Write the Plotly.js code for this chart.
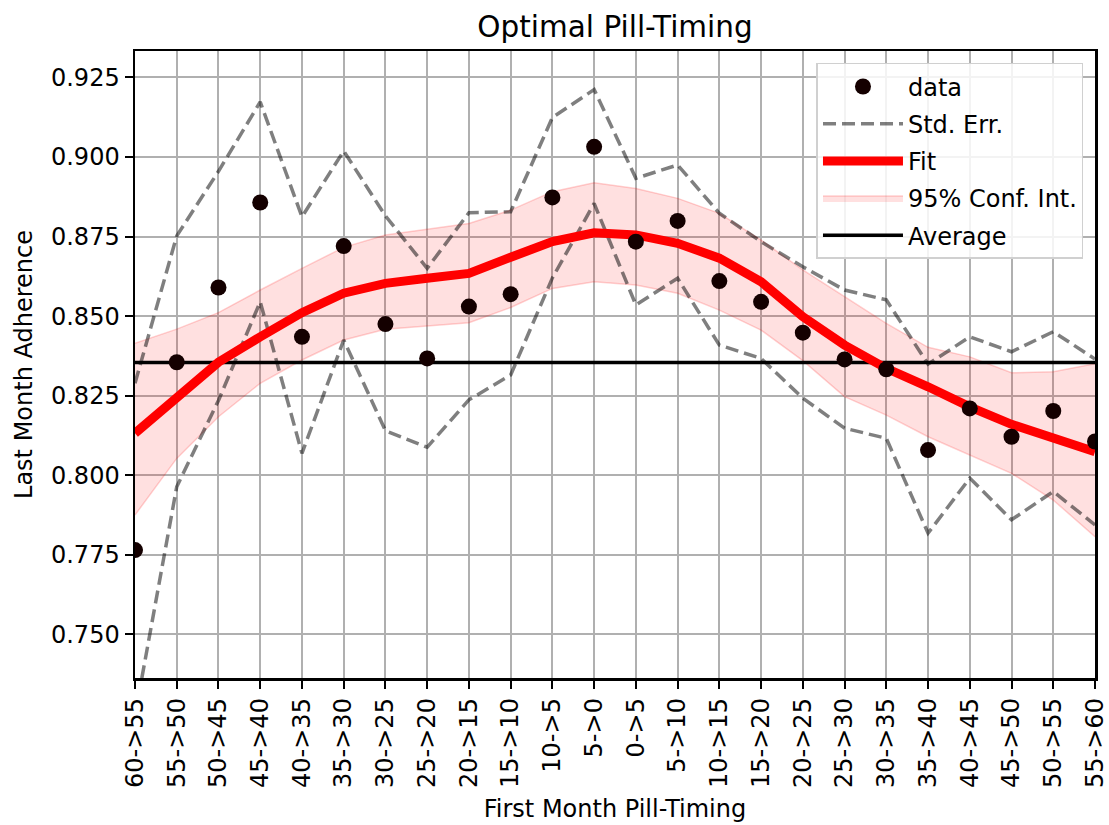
<!DOCTYPE html>
<html>
<head>
<meta charset="utf-8">
<script src="https://cdn.plot.ly/plotly-3.0.1.min.js"></script>
<style>html,body{margin:0;padding:0;background:#fff;}#chart{width:1109px;height:825px;}</style>
</head>
<body>
<div id="chart"></div>
<script>
const categories = ["60->55","55->50","50->45","45->40","40->35","35->30","30->25","25->20","20->15","15->10","10->5","5->0",
                    "0->5","5->10","10->15","15->20","20->25","25->30","30->35","35->40","40->45","45->50","50->55","55->60"];
const dataValues = [0.7765,0.8355,0.8590,0.8857,0.8435,0.8720,0.8475,0.8367,0.8530,0.8569,0.8873,0.9032,
                    0.8734,0.8799,0.8610,0.8545,0.8448,0.8364,0.8333,0.8079,0.8210,0.8121,0.8202,0.8106];
const stdErrUpper = [0.8289,0.8752,0.8955,0.9173,0.8812,0.9019,0.8815,0.8650,0.8825,0.8828,0.9124,0.9212,
                     0.8933,0.8975,0.8823,0.8734,0.8655,0.8582,0.8551,0.8349,0.8435,0.8388,0.8451,0.8365];
const stdErrLower = [0.7245,0.7964,0.8235,0.8545,0.8069,0.8425,0.8140,0.8088,0.8237,0.8315,0.8620,0.8854,
                     0.8535,0.8619,0.8409,0.8367,0.8242,0.8148,0.8116,0.7818,0.7991,0.7860,0.7949,0.7844];
const fitValues = [0.8132,0.8242,0.8355,0.8435,0.8511,0.8572,0.8603,0.8619,0.8634,0.8685,0.8734,0.8762,
                   0.8755,0.8729,0.8682,0.8608,0.8498,0.8409,0.8336,0.8278,0.8215,0.8160,0.8114,0.8074];
const ciUpper = [0.8415,0.8459,0.8511,0.8582,0.8650,0.8716,0.8755,0.8773,0.8791,0.8833,0.8891,0.8919,
                 0.8901,0.8870,0.8823,0.8739,0.8645,0.8561,0.8477,0.8402,0.8372,0.8322,0.8325,0.8350];
const ciLower = [0.7875,0.8053,0.8184,0.8289,0.8362,0.8425,0.8459,0.8469,0.8479,0.8527,0.8587,0.8608,
                 0.8598,0.8572,0.8519,0.8456,0.8360,0.8247,0.8189,0.8121,0.8064,0.8006,0.7922,0.7807];
const averageValue = 0.8354;
const averageLine = categories.map(() => averageValue);

const FONT = "DejaVu Sans, sans-serif";

const traces = [
  {x: categories, y: ciLower, type: "scatter", mode: "lines", line: {color: "rgba(255,0,0,0.18)", width: 1.5},
   showlegend: false, hoverinfo: "skip", legendgroup: "ci"},
  {x: categories, y: ciUpper, type: "scatter", mode: "lines", fill: "tonexty", fillcolor: "rgba(255,0,0,0.12)",
   line: {color: "rgba(255,0,0,0.18)", width: 1.5}, name: "95% Conf. Int.", legendrank: 4, legendgroup: "ci"},
  {x: categories, y: stdErrUpper, type: "scatter", mode: "lines", line: {color: "rgba(0,0,0,0.5)", width: 3.5, dash: "13px,6px"},
   name: "Std. Err.", legendrank: 2, legendgroup: "se"},
  {x: categories, y: stdErrLower, type: "scatter", mode: "lines", line: {color: "rgba(0,0,0,0.5)", width: 3.5, dash: "13px,6px"},
   showlegend: false, legendgroup: "se", legendrank: 2},
  {x: categories, y: averageLine, type: "scatter", mode: "lines", line: {color: "#000000", width: 3.5},
   name: "Average", legendrank: 5, legendgroup: "avg"},
  {x: categories, y: fitValues, type: "scatter", mode: "lines", line: {color: "#ff0000", width: 9},
   name: "Fit", legendrank: 3, legendgroup: "fit"},
  {x: categories, y: dataValues, type: "scatter", mode: "markers", marker: {color: "#140000", size: 16},
   name: "data", legendrank: 1, legendgroup: "data"}
];
traces[0].legendrank = 4;

const layout = {
  width: 1109, height: 825,
  margin: {l: 135, r: 14, t: 51, b: 147},
  paper_bgcolor: "#ffffff", plot_bgcolor: "#ffffff",
  font: {family: FONT, size: 24, color: "#000"},
  title: {text: "Optimal Pill-Timing", font: {family: FONT, size: 29.5, color: "#000"},
          x: 0.5, xref: "paper", y: 0.968, yref: "container", yanchor: "middle"},
  xaxis: {
    type: "category", range: [0, 23],
    tickangle: -90, ticks: "outside", ticklen: 8, tickwidth: 2, tickcolor: "#000",
    showgrid: true, gridcolor: "#b0b0b0", gridwidth: 2,
    showline: true, linecolor: "#000", linewidth: 2.5, mirror: true,
    zeroline: false, tickfont: {family: FONT, size: 24},
    title: {text: "First Month Pill-Timing", font: {family: FONT, size: 24}, standoff: 13}
  },
  yaxis: {
    range: [0.7363, 0.9333], dtick: 0.025, tick0: 0.75, tickformat: ".3f",
    ticks: "outside", ticklen: 8, tickwidth: 2, tickcolor: "#000",
    showgrid: true, gridcolor: "#b0b0b0", gridwidth: 2,
    showline: true, linecolor: "#000", linewidth: 2.5, mirror: true,
    zeroline: false, tickfont: {family: FONT, size: 24},
    title: {text: "Last Month Adherence", font: {family: FONT, size: 24}, standoff: 12}
  },
  legend: {
    x: 0.988, xanchor: "right", y: 0.981, yanchor: "top",
    traceorder: "grouped",
    bgcolor: "rgba(255,255,255,0.85)", bordercolor: "#d0d0d0", borderwidth: 1.5,
    font: {family: FONT, size: 24}, itemwidth: 80, tracegroupgap: 3
  },
  showlegend: true
};

Plotly.newPlot("chart", traces, layout, {displayModeBar: false, staticPlot: true});
</script>
</body>
</html>
